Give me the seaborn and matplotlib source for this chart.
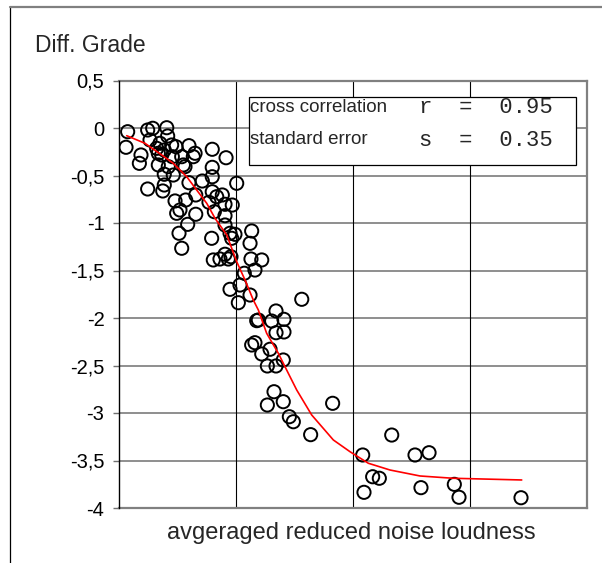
import numpy as np
import pandas as pd
import matplotlib
matplotlib.use("Agg")
import matplotlib.pyplot as plt
from matplotlib.lines import Line2D
from matplotlib.patches import Rectangle
import seaborn as sns

# ---------------- data ----------------
loudness = [0.074, 0.060, 0.188, 0.174, 0.245, 0.288, 0.408, 0.416, 0.265, 0.350,
            0.322, 0.336, 0.365, 0.387, 0.450, 0.487, 0.598, 0.650, 0.635, 0.536,
            0.456, 0.336, 0.421, 0.550, 0.564, 0.797, 0.915, 0.797, 0.387, 0.464,
            0.598, 0.712, 0.797, 1.006, 0.245, 0.374, 0.387, 0.656, 0.797, 0.835,
            0.883, 0.570, 0.479, 0.769, 0.906, 0.968, 0.521, 0.493, 0.656, 0.815,
            0.906, 0.587, 0.906, 0.513, 0.792, 0.536, 0.949, 0.991, 0.963, 1.134,
            1.120, 0.806, 0.863, 0.906, 0.934, 0.957, 1.128, 1.220, 1.162, 1.071,
            1.034, 0.949, 1.120, 1.020, 1.562, 1.342, 1.410, 1.305, 1.191, 1.177,
            1.342, 1.410, 1.162, 1.134, 1.291, 1.220, 1.404, 1.268, 1.342, 1.325,
            1.404, 1.268, 1.826, 1.456, 1.490, 1.638, 2.331, 2.083, 2.530, 2.650,
            2.168, 2.225, 2.094, 2.581, 2.866, 2.906, 3.436]
diff_grade = [-0.039, -0.203, -0.284, -0.372, -0.021, -0.003, 0.003, -0.084, -0.126, -0.161,
              -0.214, -0.266, -0.284, -0.232, -0.179, -0.197, -0.186, -0.266, -0.302, -0.302,
              -0.302, -0.389, -0.407, -0.389, -0.407, -0.224, -0.313, -0.414, -0.487, -0.495,
              -0.576, -0.558, -0.513, -0.582, -0.642, -0.663, -0.600, -0.705, -0.671, -0.723,
              -0.705, -0.758, -0.768, -0.782, -0.803, -0.811, -0.863, -0.898, -0.908, -0.881,
              -0.923, -1.014, -1.021, -1.108, -1.161, -1.266, -1.108, -1.119, -1.161, -1.084,
              -1.214, -1.389, -1.379, -1.329, -1.379, -1.355, -1.379, -1.389, -1.495, -1.529,
              -1.653, -1.698, -1.758, -1.839, -1.803, -1.926, -2.014, -2.032, -2.021, -2.028,
              -2.155, -2.147, -2.260, -2.284, -2.329, -2.379, -2.442, -2.505, -2.505, -2.776,
              -2.881, -2.916, -2.898, -3.039, -3.092, -3.228, -3.232, -3.442, -3.442, -3.418,
              -3.671, -3.687, -3.835, -3.786, -3.751, -3.887, -3.892]

fit_x = [0.066, 0.222, 0.365, 0.464, 0.579, 0.664, 0.750, 0.821, 0.921, 1.006,
         1.077, 1.148, 1.191, 1.262, 1.362, 1.447, 1.519, 1.647, 1.832, 1.974,
         2.131, 2.316, 2.573, 2.855, 3.442]
fit_y = [-0.081, -0.161, -0.284, -0.372, -0.513, -0.653, -0.793, -0.951, -1.126, -1.407,
         -1.600, -1.811, -1.916, -2.161, -2.372, -2.582, -2.758, -3.021, -3.284, -3.407,
         -3.529, -3.600, -3.663, -3.687, -3.705]

y_ticks = [0.5, 0.0, -0.5, -1.0, -1.5, -2.0, -2.5, -3.0, -3.5, -4.0]
y_tick_labels = ["0,5", "0", "-0,5", "-1", "-1,5", "-2", "-2,5", "-3", "-3,5", "-4"]
x_grid = [1, 2, 3]

y_title = "Diff. Grade"
x_title = "avgeraged reduced noise loudness"
stat_names = ["cross correlation", "standard error"]
stat_values = ["r  =  0.95", "s  =  0.35"]

# ---------------- figure ----------------
sns.set_style("white")
plt.rcParams["font.family"] = ["Liberation Sans", "DejaVu Sans"]

W, H = 602, 563
fig = plt.figure(figsize=(W / 100, H / 100), dpi=100)
fig.patch.set_facecolor("white")

def fx(px):
    return px / W

def fy(py):
    return 1 - py / H

ax = fig.add_axes([fx(119), fy(508), (587 - 119) / W, (508 - 80.5) / H])
ax.set_facecolor("white")

pts = pd.DataFrame({"x": loudness, "y": diff_grade})
fit = pd.DataFrame({"x": fit_x, "y": fit_y})

ax.set_xlim(0, 4)
ax.set_ylim(-4, 0.5)

# grid
for gy in y_ticks:
    ax.axhline(gy, color="#707070", lw=1.1, zorder=1)
for gx in x_grid:
    ax.axvline(gx, color="black", lw=0.8, zorder=1)

sns.scatterplot(data=pts, x="x", y="y", ax=ax, marker="o", s=90,
                facecolor="none", edgecolor="black", linewidth=1.4, zorder=3,
                legend=False)
sns.lineplot(data=fit, x="x", y="y", ax=ax, color="red", lw=1.2, zorder=4,
             sort=False, estimator=None, legend=False)

ax.set_xticks([])
ax.set_yticks(y_ticks)
ax.set_yticklabels(y_tick_labels, fontsize=14.5)
ax.tick_params(axis="y", length=4.5, width=1.0, color="#707070", pad=6,
               labelcolor="black", left=True)
ax.set_xlabel("")
ax.set_ylabel("")

for side in ["top", "right", "bottom"]:
    ax.spines[side].set_color("#808080")
    ax.spines[side].set_linewidth(1.6)
ax.spines["left"].set_color("black")
ax.spines["left"].set_linewidth(1.0)
ax.spines["left"].set_zorder(5)

# outer frame (only left and top visible)
fig.add_artist(Line2D([fx(10), fx(10)], [fy(7), 0], color="black", lw=0.9))
fig.add_artist(Line2D([fx(10), 1], [fy(7), fy(7)], color="#808080", lw=1.6))

# titles
fig.text(fx(35), fy(45), y_title, fontsize=16.5, ha="left", va="center")
fig.text(fx(351), fy(533), x_title, fontsize=17, ha="center", va="center")

# stats box
box = Rectangle((fx(248.5), fy(165)), (576 - 248.5) / W, (165 - 97) / H,
                transform=fig.transFigure, facecolor="white", edgecolor="black",
                lw=0.9, zorder=10, clip_on=False)
ax.add_patch(box)
for i, (name, val) in enumerate(zip(stat_names, stat_values)):
    yy = fy(108 + i * 32)
    ax.text(fx(250), yy, name, transform=fig.transFigure, fontsize=13.5,
            ha="left", va="center", zorder=11)
    ax.text(fx(553), yy, val, transform=fig.transFigure, fontsize=16,
            family="Liberation Mono", ha="right", va="center", zorder=11)

fig.savefig("out.png", dpi=100, facecolor="white")
